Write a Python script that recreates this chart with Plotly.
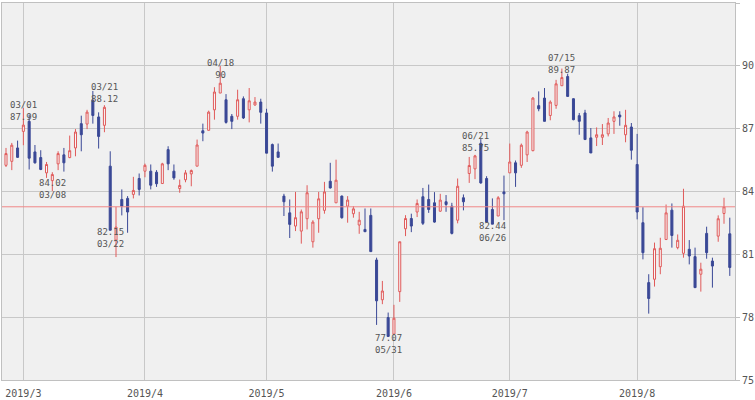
import pandas as pd
import plotly.graph_objects as go

# US trading days, 2019-02-26 .. 2019-08-23
holidays = ["2019-04-19", "2019-05-27", "2019-07-04"]
days = [d for d in pd.bdate_range("2019-02-26", "2019-08-23").strftime("%Y-%m-%d") if d not in holidays]

opens = [85.25, 85.44, 86.08, 86.87, 87.35, 85.89, 85.62, 84.89, 84.52, 85.32,
         85.75, 85.62, 86.08, 87.24, 87.22, 88.35, 87.56, 87.16, 85.21, 81.68,
         83.62, 83.67, 83.86, 84.62, 84.97, 84.97, 84.92, 84.38, 86.00, 84.97,
         84.14, 84.56, 84.84, 85.21, 86.90, 86.92, 87.90, 88.70, 88.38, 87.59,
         87.59, 88.43, 87.90, 88.13, 88.27, 87.75, 86.24, 85.89, 83.78, 82.98,
         82.35, 82.11, 82.70, 81.60, 82.70, 83.10, 84.49, 83.46, 83.78, 83.30,
         82.94, 82.40, 82.19, 82.86, 80.73, 78.83, 77.98, 77.19, 79.22, 82.22,
         82.71, 83.02, 83.75, 83.62, 83.46, 83.06, 83.51, 83.30, 82.63, 83.70,
         84.86, 85.08, 86.30, 84.62, 83.14, 82.83, 83.98, 84.89, 85.37, 85.25,
         85.75, 85.95, 88.10, 88.46, 87.63, 88.11, 89.05, 89.49, 88.43, 87.62,
         87.75, 86.56, 86.59, 86.59, 86.75, 87.35, 87.65, 86.71, 87.08, 85.29,
         82.51, 79.65, 79.81, 80.41, 81.71, 83.11, 81.32, 81.05, 81.24, 80.89,
         80.05, 82.00, 80.68, 81.87, 82.95, 81.98]
highs = [86.08, 86.32, 86.43, 87.99, 87.67, 86.22, 85.97, 85.41, 84.92, 85.92,
         86.08, 86.67, 86.98, 87.62, 87.90, 88.80, 87.78, 88.12, 85.92, 83.27,
         84.10, 83.78, 84.70, 84.86, 85.33, 85.29, 85.02, 85.37, 86.16, 85.29,
         84.57, 85.02, 85.05, 86.48, 87.24, 87.86, 88.98, 90.00, 88.65, 87.70,
         88.86, 88.54, 88.94, 88.51, 88.43, 87.95, 86.29, 86.29, 83.89, 83.62,
         83.98, 83.14, 84.30, 82.63, 83.98, 84.46, 85.37, 85.52, 83.81, 83.78,
         83.30, 83.03, 83.19, 83.19, 80.84, 79.73, 78.22, 78.59, 81.60, 82.87,
         82.94, 83.62, 84.17, 84.33, 83.97, 83.89, 83.83, 83.46, 84.62, 83.86,
         85.65, 85.75, 86.50, 84.73, 83.67, 83.78, 84.76, 86.29, 85.48, 86.29,
         86.90, 88.51, 88.78, 88.94, 88.35, 89.33, 89.87, 89.62, 88.45, 87.75,
         87.90, 87.03, 87.06, 87.22, 87.51, 87.83, 87.83, 87.90, 87.27, 86.75,
         83.25, 80.05, 81.56, 81.79, 83.38, 83.43, 81.95, 84.13, 81.68, 81.32,
         80.60, 82.32, 80.84, 82.86, 83.70, 82.75]
lows = [85.17, 85.02, 85.60, 86.21, 85.05, 85.33, 85.02, 84.65, 84.02, 85.02,
        84.95, 85.59, 85.68, 85.92, 86.98, 87.24, 86.05, 86.83, 82.15, 80.87,
        82.86, 82.03, 83.67, 83.81, 84.68, 84.10, 84.22, 84.37, 85.02, 84.56,
        83.94, 84.44, 84.25, 85.21, 86.40, 86.92, 87.43, 88.70, 87.24, 86.98,
        87.43, 87.46, 87.30, 88.10, 87.24, 85.83, 84.95, 85.63, 82.83, 81.78,
        82.11, 81.51, 82.19, 81.32, 82.03, 82.94, 84.14, 83.46, 82.70, 82.51,
        82.75, 81.98, 82.08, 81.13, 77.63, 78.62, 77.07, 77.19, 78.73, 81.87,
        82.06, 82.78, 82.40, 82.98, 82.51, 83.03, 83.03, 81.95, 82.48, 83.10,
        84.41, 84.59, 84.37, 82.54, 82.44, 82.83, 82.63, 84.89, 84.22, 85.13,
        85.41, 85.92, 87.83, 87.35, 87.40, 87.95, 89.05, 88.54, 87.40, 86.71,
        86.48, 85.84, 86.17, 86.22, 86.63, 86.75, 87.14, 86.35, 85.52, 82.67,
        80.76, 78.17, 79.46, 80.05, 81.68, 81.32, 81.24, 80.84, 80.52, 79.41,
        79.22, 80.79, 79.41, 81.60, 82.46, 79.97]
closes = [85.81, 86.21, 85.63, 87.17, 85.59, 85.37, 85.05, 85.29, 84.81, 85.81,
          85.37, 85.95, 86.84, 86.71, 87.79, 87.63, 86.63, 88.02, 82.15, 82.30,
          83.30, 83.02, 84.05, 84.10, 85.25, 84.30, 84.37, 85.32, 85.32, 84.65,
          84.29, 84.89, 85.00, 86.22, 86.79, 87.79, 88.75, 89.17, 87.30, 87.35,
          88.38, 87.51, 88.33, 88.27, 87.78, 85.83, 85.21, 85.63, 83.51, 82.43,
          82.75, 83.03, 83.94, 82.54, 83.65, 83.98, 84.17, 84.54, 82.75, 83.59,
          83.17, 82.63, 82.08, 81.13, 78.78, 79.25, 77.08, 77.95, 81.60, 82.71,
          82.35, 83.43, 82.48, 83.14, 82.54, 83.59, 83.38, 82.00, 84.25, 83.51,
          85.24, 85.70, 84.41, 82.54, 82.44, 83.70, 83.89, 85.41, 84.89, 86.21,
          86.84, 88.46, 87.95, 87.35, 88.27, 89.14, 89.44, 88.54, 87.43, 87.35,
          86.48, 85.84, 86.71, 86.71, 87.27, 87.56, 87.56, 87.16, 85.97, 83.02,
          81.08, 78.89, 81.27, 81.29, 82.98, 81.90, 81.67, 83.30, 80.92, 79.41,
          80.29, 81.08, 80.44, 82.70, 83.27, 80.37]

# labelled highs / lows
peak_days = ["2019-03-01", "2019-03-21", "2019-04-18", "2019-06-21", "2019-07-15"]
peak_vals = [87.99, 88.12, 90, 85.75, 89.87]
dip_days = ["2019-03-08", "2019-03-22", "2019-05-31", "2019-06-26"]
dip_vals = [84.02, 82.15, 77.07, 82.44]

month_starts = ["2019-03-01", "2019-04-01", "2019-05-01", "2019-06-03", "2019-07-01", "2019-08-01"]
month_labels = ["2019/3", "2019/4", "2019/5", "2019/6", "2019/7", "2019/8"]

prev_close = closes[-2]

tick_font = dict(family="DejaVu Sans Mono", size=10, color="#555555")
label_font = dict(family="DejaVu Sans Mono", size=9, color="#555555")

fig = go.Figure(go.Candlestick(
    x=days, open=opens, high=highs, low=lows, close=closes,
    increasing=dict(line=dict(color="#e05a5a", width=1), fillcolor="#f8f8f8"),
    decreasing=dict(line=dict(color="#3a4896", width=1), fillcolor="#3a4896"),
    whiskerwidth=0,
    showlegend=False,
    hoverinfo="skip",
))

fig.add_hline(y=prev_close, line=dict(color="#f08888", width=1))

# labels sit on the candle body: above its top for highs, over its bottom for lows
for d, v in zip(peak_days, peak_vals):
    k = days.index(d)
    fig.add_annotation(x=d, y=max(opens[k], closes[k]), yshift=2,
                       text=d[5:].replace("-", "/") + "<br>" + f"{v:g}",
                       showarrow=False, yanchor="bottom", font=label_font, borderpad=0)
for d, v in zip(dip_days, dip_vals):
    k = days.index(d)
    fig.add_annotation(x=d, y=min(opens[k], closes[k]), yshift=4,
                       text=f"{v:g}" + "<br>" + d[5:].replace("-", "/"),
                       showarrow=False, yanchor="top", font=label_font, borderpad=0)

fig.update_layout(
    width=755, height=400,
    margin=dict(l=1, r=20, t=3, b=18),
    paper_bgcolor="white", plot_bgcolor="#f0f0f0",
    font=tick_font,
    boxgap=0.5,
    xaxis=dict(type="category", range=[-0.69, 125.9], rangeslider=dict(visible=False),
               tickvals=month_starts, ticktext=month_labels, tickangle=0,
               showgrid=True, gridcolor="#c8c8c8", gridwidth=1,
               showline=True, linecolor="#c0c0c0", mirror=True,
               ticks="outside", ticklen=4, tickcolor="rgba(0,0,0,0)"),
    yaxis=dict(side="right", range=[75, 93], dtick=3, tick0=75,
               showgrid=True, gridcolor="#c8c8c8", gridwidth=1,
               showline=True, linecolor="#c0c0c0", mirror=True,
               ticks="outside", ticklen=4, tickcolor="#c0c0c0", zeroline=False),
)

# page has a default 8px body margin; drop it so the figure sits at the window corner
fig.write_html("out.html", config={"displayModeBar": False},
               post_script="document.body.style.margin='0';")
